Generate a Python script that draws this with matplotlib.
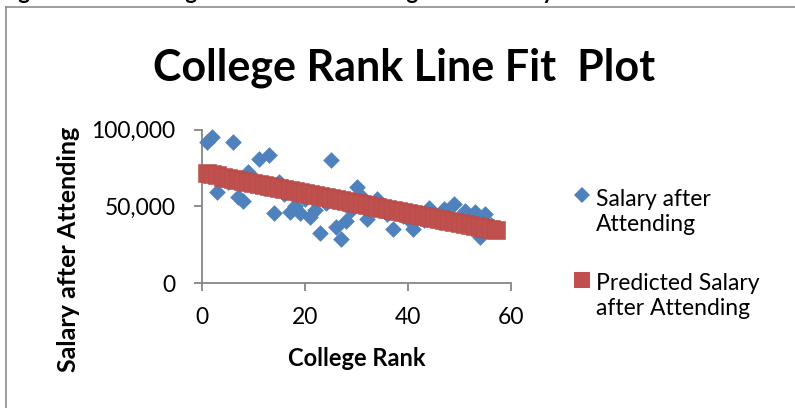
import matplotlib
matplotlib.use("Agg")
import matplotlib.pyplot as plt
from matplotlib.lines import Line2D
from matplotlib.ticker import FuncFormatter

# college rank (x) for every college
rank = list(range(1, 58))

# salary after attending
salary = [92000, 95000, 59500, 68000, 66000, 92000, 56000, 53500, 72500, 64000,
          81000, 62000, 83500, 45500, 66000, 58000, 46500, 50000, 45500, 55000,
          43000, 47500, 32500, 52000, 80000, 36500, 29000, 40500, 48000, 62500,
          56000, 42000, 50000, 55000, 48000, 45000, 35500, 46000, 44000, 42000,
          35000, 43000, 41000, 49000, 42000, 40000, 48500, 44000, 51500, 40000,
          47000, 38000, 46500, 30000, 45000, 38000, 36000]

# predicted salary (line fit)
predicted = [71500, 70840, 70180, 69520, 68860, 68200, 67550, 66890, 66230, 65570,
             64910, 64250, 63590, 62930, 62270, 61610, 60960, 60300, 59640, 58980,
             58320, 57660, 57000, 56340, 55680, 55020, 54360, 53710, 53050, 52390,
             51730, 51070, 50410, 49750, 49090, 48430, 47770, 47120, 46460, 45800,
             45140, 44480, 43820, 43160, 42500, 41840, 41180, 40530, 39870, 39210,
             38550, 37890, 37230, 36570, 35910, 35250, 34600]

x_ticks = [0, 20, 40, 60]
y_ticks = [0, 50000, 100000]

BLUE = "#4F81BD"
RED = "#C0504D"
GRAY = "#868686"
FONT = "Lato"


def main():
    fig = plt.figure(figsize=(7.95, 4.08), dpi=100)
    ax = fig.add_axes([0.254, 0.306, 0.389, 0.376])

    ax.scatter(rank, salary, marker="D", s=72, color=BLUE, linewidths=0, zorder=3,
               clip_on=False)
    ax.scatter(rank, predicted, marker="s", s=150, color=RED,
               edgecolors="#B64A47", linewidths=0.4, zorder=4, clip_on=False)

    ax.set_xlim(0, 60)
    ax.set_ylim(0, 100000)
    ax.set_xticks(x_ticks)
    ax.set_yticks(y_ticks)
    ax.yaxis.set_major_formatter(FuncFormatter(lambda v, p: f"{int(v):,}"))
    for s in ["top", "right"]:
        ax.spines[s].set_visible(False)
    for s in ["left", "bottom"]:
        ax.spines[s].set_color(GRAY)
        ax.spines[s].set_linewidth(1.3)
    ax.tick_params(axis="both", direction="out", length=6, width=1.3, color=GRAY,
                   labelsize=16.5, labelcolor="black")
    ax.tick_params(axis="y", pad=13)
    ax.tick_params(axis="x", pad=11)
    for lab in ax.get_xticklabels() + ax.get_yticklabels():
        lab.set_fontfamily(FONT)

    ax.set_xlabel("College Rank", fontsize=17, fontweight="bold", family=FONT, labelpad=14)
    # y label placed at the spot it has in the original (far left, lowered)
    fig.text(68 / 795, 1 - 249 / 408, "Salary after Attending", rotation=90,
             ha="center", va="center", fontsize=18, fontweight="bold", family=FONT)

    fig.text(0.508, 0.835, "College Rank Line Fit  Plot", ha="center", va="center",
             fontsize=31, fontweight="bold", family=FONT)

    # legend drawn by hand to sit like the original
    fig.add_artist(Line2D([581.7 / 795], [1 - 195 / 408], marker="D", markersize=8.5,
                          color=BLUE, markeredgewidth=0, transform=fig.transFigure))
    fig.text(596 / 795, 1 - 212 / 408, "Salary after\nAttending", ha="left", va="center",
             fontsize=16.5, family=FONT, linespacing=1.2)
    fig.add_artist(Line2D([581.7 / 795], [1 - 280 / 408], marker="s", markersize=12,
                          color=RED, markeredgewidth=0, transform=fig.transFigure))
    fig.text(596 / 795, 1 - 296 / 408, "Predicted Salary\nafter Attending", ha="left",
             va="center", fontsize=16.5, family=FONT, linespacing=1.2)

    # frame of the chart area and clipped caption above it
    fig.add_artist(Line2D([6 / 795, 1], [1 - 7 / 408, 1 - 7 / 408], color="#8C8C8C",
                          lw=1.2, transform=fig.transFigure))
    fig.add_artist(Line2D([6 / 795, 6 / 795], [0, 1 - 7 / 408], color="#8C8C8C",
                          lw=1.2, transform=fig.transFigure))
    fig.text(0.0, 1.0 + 1 / 408, "Figure 5: Linear Regression of the Ranking versus Salary",
             ha="left", va="baseline", fontsize=16, fontweight="bold", family=FONT)

    fig.savefig("out.png", dpi=100)


if __name__ == "__main__":
    main()
